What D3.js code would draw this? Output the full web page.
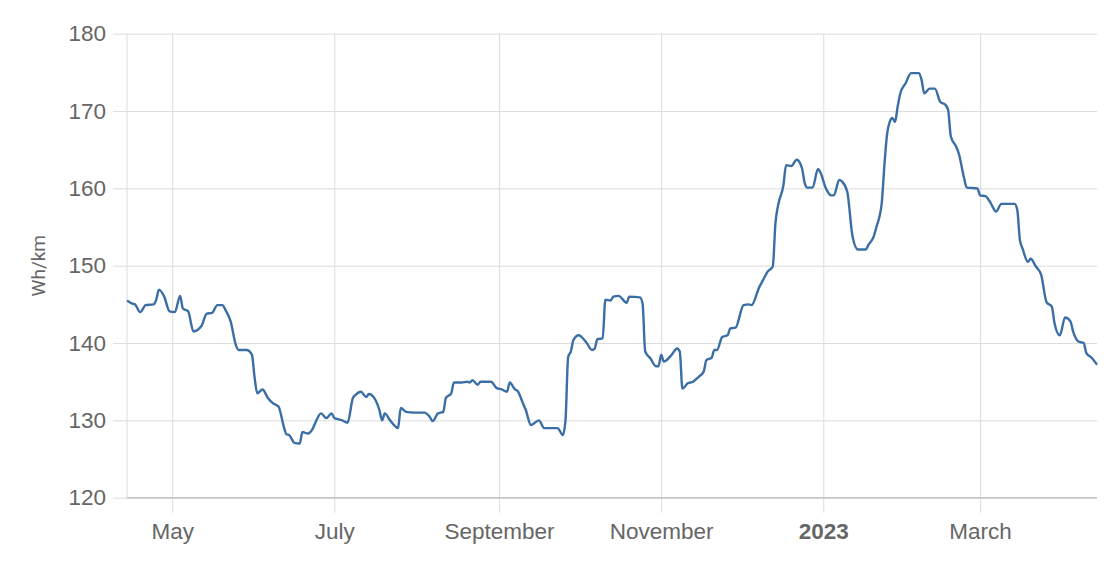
<!DOCTYPE html>
<html>
<head>
<meta charset="utf-8">
<script src="https://cdn.jsdelivr.net/npm/d3@7"></script>
<style>
  html, body { margin: 0; padding: 0; background: #fff; }
  svg { display: block; font-family: Roboto, "Noto Sans", sans-serif; }
</style>
</head>
<body>
<svg id="chart" width="1113" height="571"></svg>
<script>
// ---- data ----
const dates = [
  "2022-04-14","2022-04-16","2022-04-17","2022-04-19","2022-04-21","2022-04-24","2022-04-25","2022-04-26","2022-04-28","2022-04-30",
  "2022-05-02","2022-05-04","2022-05-05","2022-05-07","2022-05-09","2022-05-12","2022-05-14","2022-05-16","2022-05-18","2022-05-20",
  "2022-05-21","2022-05-23","2022-05-25","2022-05-26","2022-05-29","2022-05-31","2022-06-01","2022-06-02","2022-06-04","2022-06-06",
  "2022-06-08","2022-06-10","2022-06-12","2022-06-13","2022-06-14","2022-06-16","2022-06-18","2022-06-19","2022-06-21","2022-06-23",
  "2022-06-24","2022-06-26","2022-06-28","2022-06-30","2022-07-01","2022-07-03","2022-07-04","2022-07-06","2022-07-08","2022-07-09",
  "2022-07-11","2022-07-13","2022-07-14","2022-07-16","2022-07-18","2022-07-19","2022-07-20","2022-07-22","2022-07-25","2022-07-26",
  "2022-07-28","2022-07-31","2022-08-04","2022-08-06","2022-08-07","2022-08-09","2022-08-11","2022-08-12","2022-08-14","2022-08-15",
  "2022-08-18","2022-08-20","2022-08-21","2022-08-22","2022-08-24","2022-08-25","2022-08-29","2022-08-31","2022-09-02","2022-09-04",
  "2022-09-05","2022-09-07","2022-09-08","2022-09-10","2022-09-11","2022-09-13","2022-09-16","2022-09-18","2022-09-20","2022-09-23",
  "2022-09-25","2022-09-26","2022-09-27","2022-09-28","2022-09-29","2022-10-01","2022-10-02","2022-10-04","2022-10-06","2022-10-07",
  "2022-10-08","2022-10-10","2022-10-11","2022-10-13","2022-10-14","2022-10-16","2022-10-19","2022-10-20","2022-10-24","2022-10-25",
  "2022-10-26","2022-10-28","2022-10-30","2022-10-31","2022-11-01","2022-11-02","2022-11-05","2022-11-07","2022-11-08","2022-11-09",
  "2022-11-11","2022-11-13","2022-11-15","2022-11-17","2022-11-18","2022-11-20","2022-11-21","2022-11-22","2022-11-24","2022-11-26",
  "2022-11-27","2022-11-29","2022-12-02","2022-12-04","2022-12-05","2022-12-08","2022-12-09","2022-12-11","2022-12-13","2022-12-14",
  "2022-12-15","2022-12-17","2022-12-18","2022-12-20","2022-12-22","2022-12-24","2022-12-25","2022-12-26","2022-12-28","2022-12-30",
  "2022-12-31","2023-01-02","2023-01-04","2023-01-05","2023-01-07","2023-01-08","2023-01-10","2023-01-12","2023-01-14","2023-01-17",
  "2023-01-18","2023-01-20","2023-01-21","2023-01-23","2023-01-24","2023-01-25","2023-01-26","2023-01-27","2023-01-28","2023-01-29",
  "2023-01-30","2023-02-01","2023-02-03","2023-02-06","2023-02-07","2023-02-08","2023-02-10","2023-02-12","2023-02-14","2023-02-16",
  "2023-02-17","2023-02-18","2023-02-20","2023-02-21","2023-02-23","2023-02-24","2023-02-28","2023-03-01","2023-03-03","2023-03-05",
  "2023-03-07","2023-03-09","2023-03-14","2023-03-15","2023-03-16","2023-03-17","2023-03-19","2023-03-20","2023-03-22","2023-03-24",
  "2023-03-26","2023-03-28","2023-03-29","2023-03-31","2023-04-02","2023-04-04","2023-04-05","2023-04-07","2023-04-09","2023-04-10",
  "2023-04-12","2023-04-14"
];
const whPerKm = [
  145.5,145.1,145.0,144.0,144.9,145.0,145.6,146.9,146.0,144.1,
  144.0,146.1,144.5,144.1,141.5,142.2,143.8,143.9,144.9,144.9,
  144.3,142.8,139.7,139.1,139.1,138.5,135.6,133.5,134.0,132.9,
  132.2,131.8,129.2,128.2,128.1,127.1,127.0,128.5,128.3,129.0,
  129.8,130.9,130.3,130.9,130.3,130.1,130.0,129.7,132.9,133.3,
  133.7,133.0,133.4,132.9,131.3,130.0,130.9,130.0,129.0,131.6,
  131.1,131.0,131.0,130.4,129.9,130.9,131.1,132.9,133.5,134.9,
  134.9,135.0,134.9,135.2,134.6,135.0,135.0,134.2,134.0,133.7,
  134.9,134.0,133.8,132.2,131.4,129.4,130.0,129.0,129.0,129.0,
  128.1,130.0,138.2,138.9,140.4,141.0,140.8,140.0,139.1,139.3,
  140.5,140.6,145.6,145.5,146.0,146.1,145.2,146.0,145.9,145.1,
  138.9,138.0,137.0,137.0,138.5,137.6,138.5,139.3,138.9,134.1,
  134.8,135.0,135.6,136.3,137.8,138.1,139.1,139.1,140.8,141.0,
  141.9,142.0,144.9,145.0,144.9,147.3,147.9,149.2,149.9,155.5,
  157.8,160.4,163.0,162.9,163.7,162.6,160.7,160.1,160.1,162.5,
  162.0,160.0,159.1,159.1,161.1,160.9,159.6,153.8,152.1,152.1,
  152.7,153.8,155.0,158.1,163.0,167.0,168.6,169.1,168.6,170.6,
  172.3,173.6,174.9,174.9,174.0,172.3,172.9,172.9,171.2,170.8,
  170.1,166.7,165.4,164.5,161.3,160.1,160.0,159.1,159.0,158.1,
  157.0,158.0,158.0,157.2,153.3,152.2,150.5,150.9,149.9,148.8,
  145.3,144.7,142.6,141.0,143.3,142.8,141.5,140.2,140.0,138.7,
  138.1,137.2
];
const yTicks = [120, 130, 140, 150, 160, 170, 180];
const xTickDates = ["2022-05-01","2022-07-01","2022-09-01","2022-11-01","2023-01-01","2023-03-01"];
const xTickLabels = ["May","July","September","November","2023","March"];
const yDomain = [120, 180];
const xDomain = ["2022-04-14","2023-04-14"];
const yLabel = "Wh/km";

// ---- chart ----
const parse = d3.utcParse("%Y-%m-%d");
const data = dates.map((d, i) => ({ date: parse(d), value: whPerKm[i] }));

const margin = { left: 127, right: 16, top: 33.7, bottom: 73.3 };
const W = 1113, H = 571;
const svg = d3.select("#chart");

const x = d3.scaleUtc().domain(xDomain.map(parse)).range([margin.left, W - margin.right]);
const y = d3.scaleLinear().domain(yDomain).range([H - margin.bottom, margin.top]);

const gridColor = "#dcdcdc";
const textColor = "#666";

// horizontal grid + y axis
const yAxis = d3.axisLeft(y).tickValues(yTicks).tickSize(W - margin.right - margin.left + 14).tickPadding(7);
const gy = svg.append("g")
  .attr("transform", `translate(${W - margin.right},0)`)
  .call(yAxis);
gy.select(".domain").remove();
gy.selectAll(".tick line").attr("stroke", gridColor).attr("stroke-width", 1);
gy.selectAll(".tick text").attr("fill", textColor).attr("font-size", 22.5);

// vertical grid + x axis
const gx = svg.append("g")
  .attr("transform", `translate(0,${margin.top})`)
  .call(d3.axisBottom(x)
    .tickValues(xTickDates.map(parse))
    .tickFormat((d, i) => xTickLabels[i])
    .tickSize(H - margin.bottom - margin.top + 15)
    .tickPadding(10));
gx.select(".domain").remove();
gx.selectAll(".tick line").attr("stroke", gridColor).attr("stroke-width", 1);
gx.selectAll(".tick text")
  .attr("fill", textColor)
  .attr("font-size", 22.5)
  .attr("font-weight", (d, i) => xTickLabels[i] === "2023" ? "bold" : "normal");

// left axis line
svg.append("line")
  .attr("x1", margin.left).attr("x2", margin.left)
  .attr("y1", margin.top).attr("y2", H - margin.bottom)
  .attr("stroke", gridColor).attr("stroke-width", 1);

// bottom axis line
svg.append("line")
  .attr("x1", margin.left).attr("x2", W - margin.right)
  .attr("y1", y(yDomain[0])).attr("y2", y(yDomain[0]))
  .attr("stroke", "#c4c4c4").attr("stroke-width", 1.5);

// y label
svg.append("text")
  .attr("transform", `translate(38,${(margin.top + H - margin.bottom) / 2}) rotate(-90)`)
  .attr("text-anchor", "middle")
  .attr("dy", "0.35em")
  .attr("fill", textColor)
  .attr("font-size", 19)
  .text(yLabel);

// line
const line = d3.line()
  .x(d => x(d.date))
  .y(d => y(d.value))
  .curve(d3.curveMonotoneX);

svg.append("path")
  .datum(data)
  .attr("fill", "none")
  .attr("stroke", "#3a6ea5")
  .attr("stroke-width", 2.4)
  .attr("stroke-linejoin", "round")
  .attr("d", line);
</script>
</body>
</html>
